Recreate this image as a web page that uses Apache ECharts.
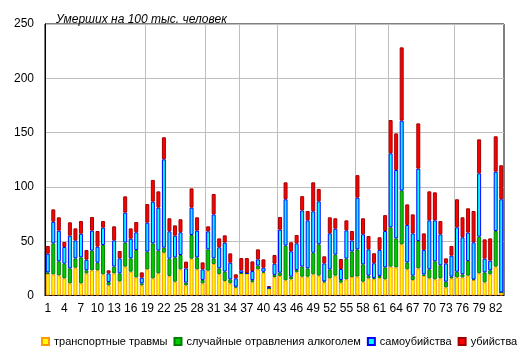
<!DOCTYPE html>
<html>
<head>
<meta charset="utf-8">
<script src="https://cdn.jsdelivr.net/npm/echarts@6/dist/echarts.min.js"></script>
<style>
html,body{margin:0;padding:0;background:#fff;}
#chart{width:518px;height:362px;}
</style>
</head>
<body>
<div id="chart"></div>
<script>
const categories = Array.from({length: 83}, (_, i) => String(i + 1));
const seriesNames = ['транспортные травмы', 'случайные отравления алкоголем', 'самоубийства', 'убийства'];
const transport = [19.8,19.5,18.6,15.8,11.2,25.6,11.2,20.4,23.2,23.2,19.5,9.4,20.4,13.0,26.6,21.9,16.7,9.4,24.1,15.8,20.4,39.4,18.0,12.7,24.1,9.4,33.9,24.1,11.2,22.9,29.0,19.8,13.4,11.2,7.5,20.4,20.4,12.2,24.1,21.0,6.6,17.0,18.0,14.0,14.9,21.5,17.3,17.3,19.5,18.3,12.1,15.8,18.3,11.8,14.9,17.0,17.5,12.7,15.8,15.0,16.0,14.9,26.6,25.9,47.1,24.1,14.3,25.0,18.0,15.8,14.9,15.8,7.5,15.8,16.7,16.7,18.3,14.3,20.4,12.1,19.5,26.6,2.9];
const alcohol = [1.5,28.5,12.9,13.5,13.8,8.6,23.9,2.8,18.1,7.0,27.0,3.0,6.2,7.4,22.1,12.3,25.2,1.8,16.3,32.2,20.9,4.6,15.9,22.4,13.2,2.4,21.8,11.0,3.1,19.6,5.2,5.2,8.6,3.7,0.6,0.3,0,2.0,3.4,0.9,0,2.0,3.0,31.9,2.4,2.0,9.3,7.7,19.9,28.8,0.9,8.3,19.3,2.5,19.0,23.5,25.0,16.0,2.5,1.2,2.0,11.0,36.2,26.7,49.4,6.4,4.0,25.2,1.5,8.3,16.6,12.0,5.2,1.5,5.2,2.8,13.5,0.6,33.8,9.2,3.7,32.8,0];
const suicide = [17.2,19.9,28.2,15.4,30.1,16.6,21.8,9.8,18.4,14.8,16.0,8.0,24.2,13.8,27.6,18.1,16.3,5.2,26.7,38.4,39.6,81.4,25.2,20.0,20.9,13.2,25.2,24.6,9.8,16.6,40.5,19.4,26.7,15.3,7.7,2.5,0.3,8.3,5.8,3.7,1.2,10.3,39.6,42.7,23.4,24.5,51.7,44.2,38.1,39.6,16.6,33.2,23.9,10.1,26.1,10.1,47.6,27.7,24.2,13.5,24.0,33.5,68.1,63.0,64.5,34.5,38.9,66.6,22.5,45.1,37.7,28.5,16.9,19.4,40.9,34.1,26.1,34.1,58.3,12.6,8.9,54.6,85.7];
const homicide = [7.1,11.4,12.3,4.6,12.3,11.0,11.7,8.9,12.6,14.4,6.1,2.8,12.9,6.8,15.0,9.5,9.5,4.9,17.1,20.0,15.0,20.3,12.0,9.5,12.0,6.2,17.7,12.3,6.4,4.6,18.8,8.2,6.7,8.6,3.7,11.3,13.8,8.9,9.2,7.7,0.9,8.0,11.7,15.6,8.3,7.7,13.2,8.6,26.7,11.4,6.5,14.7,9.6,9.2,9.2,8.8,20.7,14.7,12.3,9.2,11.6,14.6,30.7,33.7,67.5,18.9,17.5,41.7,15.2,26.7,25.8,12.3,4.6,8.9,25.8,18.4,22.4,28.8,31.3,17.8,20.5,32.6,31.3];
// first region (0-based index) of each federal district after the first
const districtStarts = [18, 29, 35, 42, 56, 62, 74];
const yTicks = {min: 0, max: 250, interval: 50};
const titleText = 'Умерших на 100 тыс. человек';

const fills = ['#FFFF00', '#00CC00', '#00FFFF', '#FF0000'];
const borders = ['#FF9900', '#008000', '#0000FF', '#A00000'];
const values = [transport, alcohol, suicide, homicide];
const FONT = '"Liberation Sans", Arial, sans-serif';

const series = seriesNames.map((name, k) => ({
  name, type: 'bar', stack: 'total', data: values[k], z: 3,
  barCategoryGap: '28%',
  itemStyle: {color: fills[k], borderColor: borders[k], borderWidth: 1},
  emphasis: {disabled: true}
}));
// district separators: drawn at the left boundary of each district's first category
series.push({
  name: 'districts', type: 'custom', z: 1, silent: true,
  data: districtStarts.map(i => [i]),
  encode: {x: 0},
  renderItem: function (params, api) {
    const idx = api.value(0);
    const top = api.coord([idx, yTicks.max]);
    const bottom = api.coord([idx, yTicks.min]);
    const band = api.size([1, 0])[0];
    const x = Math.round(top[0] - band / 2) + 0.5;
    return {
      type: 'line', silent: true,
      shape: {x1: x, y1: top[1], x2: x, y2: bottom[1]},
      style: {stroke: '#BEBEBE', lineWidth: 1}
    };
  }
});

const chart = echarts.init(document.getElementById('chart'));
chart.setOption({
  animation: false,
  title: {
    text: titleText, left: 51, top: 9,
    textStyle: {fontSize: 12, fontStyle: 'italic', fontWeight: 'normal', color: '#000', fontFamily: FONT}
  },
  legend: {
    data: seriesNames, left: 36, top: 331, itemWidth: 7, itemHeight: 7, itemGap: 6,
    icon: 'rect', width: 482,
    textStyle: {fontSize: 11, color: '#000', fontFamily: FONT}
  },
  grid: {left: 45, top: 24, width: 459, height: 271.5, show: true, borderColor: '#000', borderWidth: 1},
  xAxis: {
    type: 'category', data: categories,
    axisLine: {show: true, lineStyle: {color: '#000', width: 1}},
    axisTick: {show: false},
    axisLabel: {interval: 2, margin: 7, fontSize: 12, color: '#000', fontFamily: FONT},
    splitLine: {show: false}
  },
  yAxis: {
    type: 'value', min: yTicks.min, max: yTicks.max, interval: yTicks.interval,
    axisLine: {show: true, lineStyle: {color: '#000', width: 1}},
    axisTick: {show: false},
    axisLabel: {margin: 11, fontSize: 12, color: '#000', fontFamily: FONT},
    splitLine: {show: true, lineStyle: {color: '#BEBEBE', width: 1}}
  },
  series: series
});
</script>
</body>
</html>
